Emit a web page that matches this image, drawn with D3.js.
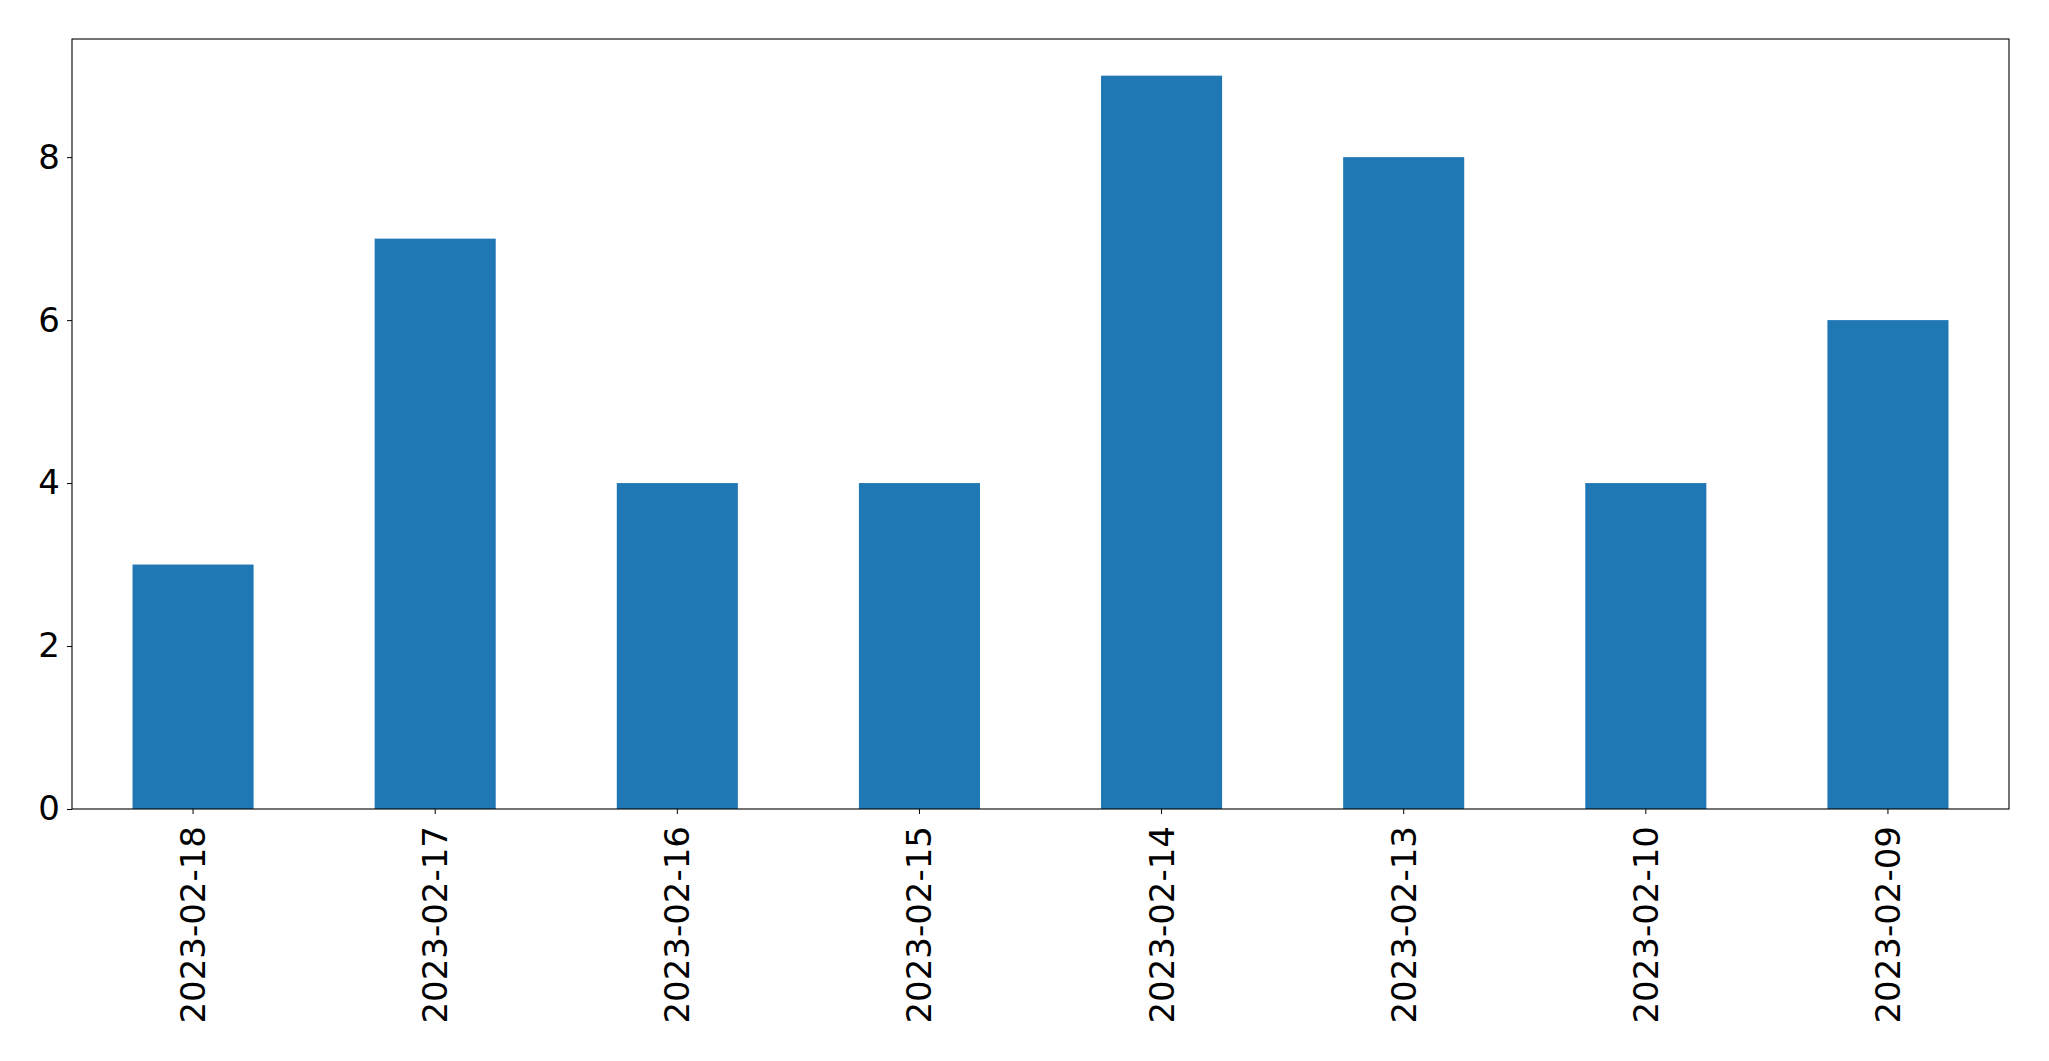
<!DOCTYPE html>
<html>
<head>
<meta charset="utf-8">
<script src="https://cdn.jsdelivr.net/npm/d3@7"></script>
<style>
  html, body { margin: 0; padding: 0; background: #fff; }
  svg { display: block; }
</style>
</head>
<body>
<script>
const categories = ["2023-02-18","2023-02-17","2023-02-16","2023-02-15","2023-02-14","2023-02-13","2023-02-10","2023-02-09"];
const values = [3, 7, 4, 4, 9, 8, 4, 6];
const yTicks = [0, 2, 4, 6, 8];

const W = 2049, H = 1061;
const margin = {left: 72, top: 39, right: W - 2009, bottom: H - 809};
const iw = W - margin.left - margin.right;
const ih = H - margin.top - margin.bottom;

const svg = d3.select("body").append("svg").attr("width", W).attr("height", H);
const g = svg.append("g").attr("transform", `translate(${margin.left},${margin.top})`);

const x = d3.scaleBand().domain(categories).range([0, iw]).paddingInner(0.5).paddingOuter(0.25);
const y = d3.scaleLinear().domain([0, d3.max(values) * 1.05]).range([ih, 0]);

g.selectAll("rect.bar").data(values).join("rect")
  .attr("class", "bar")
  .attr("x", (d, i) => x(categories[i]))
  .attr("width", x.bandwidth())
  .attr("y", d => y(d))
  .attr("height", d => y(0) - y(d))
  .attr("fill", "#1f77b4");

const font = "DejaVu Sans, sans-serif";

const yAxis = g.append("g").call(d3.axisLeft(y).tickValues(yTicks).tickSize(5).tickPadding(7).tickFormat(d3.format("d")));
yAxis.select(".domain").remove();
yAxis.selectAll("text").attr("font-family", font).attr("font-size", 34).attr("fill", "#000");
yAxis.selectAll("line").attr("stroke", "#000");

const xAxis = g.append("g").attr("transform", `translate(0,${ih})`)
  .call(d3.axisBottom(x).tickSize(5).tickPadding(0));
xAxis.select(".domain").remove();
xAxis.selectAll("line").attr("stroke", "#000");
xAxis.selectAll("text")
  .attr("font-family", font).attr("font-size", 34).attr("fill", "#000")
  .attr("y", 0).attr("dy", null)
  .attr("text-anchor", "end")
  .attr("dominant-baseline", "central")
  .attr("transform", "translate(0,17) rotate(-90)");

g.append("rect").attr("x", 0).attr("y", 0).attr("width", iw).attr("height", ih)
  .attr("fill", "none").attr("stroke", "#000").attr("stroke-width", 1.1);
</script>
</body>
</html>
